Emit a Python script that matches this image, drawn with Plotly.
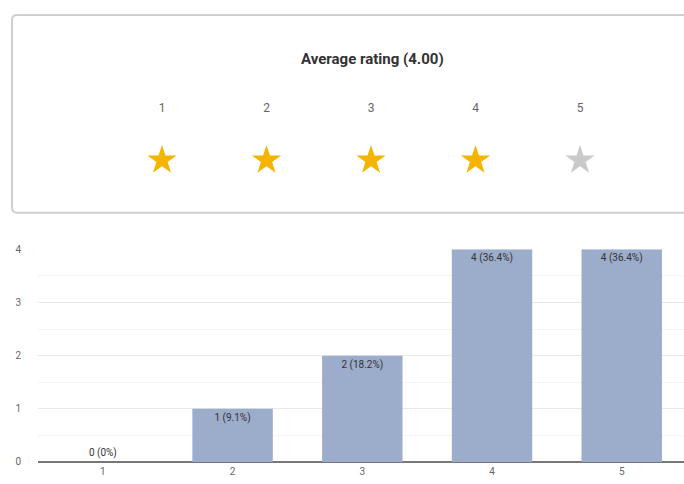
import plotly.graph_objects as go

ratings = [1, 2, 3, 4, 5]
counts = [0, 1, 2, 4, 4]
tick_labels = ["1", "2", "3", "4", "5"]
y_ticks = [0, 1, 2, 3, 4]

total = sum(counts)
avg = sum(r * c for r, c in zip(ratings, counts)) / total
labels = [f"{c} ({round(c / total * 100, 1):g}%)" for c in counts]
filled = round(avg)

W, H = 684, 484
ML, MB = 38, 22
PW, PH = W - ML, H - MB


def px(x):
    return (x - ML) / PW


def py(y):
    return (PH - y) / PH


fig = go.Figure()

fig.add_trace(go.Bar(
    x=ratings, y=counts, text=labels,
    textposition=["outside" if c == 0 else "inside" for c in counts],
    insidetextanchor="end",
    textfont=dict(size=10, color="#333333"),
    outsidetextfont=dict(size=10, color="#333333"),
    textangle=0,
    marker=dict(color="#9caccb", line=dict(width=0)),
    width=0.62, cliponaxis=False, hoverinfo="skip",
))

star_colors = ["#f4b400" if r <= filled else "#c9c9c9" for r in ratings]
fig.add_trace(go.Scatter(
    x=ratings, y=[0] * 5, mode="markers",
    marker=dict(symbol="star", size=22, color=star_colors, line=dict(width=0)),
    xaxis="x2", yaxis="y2", hoverinfo="skip",
))
fig.add_trace(go.Scatter(
    x=ratings, y=[1] * 5, mode="text", text=[str(r) for r in ratings],
    textfont=dict(size=12, color="#666666"),
    xaxis="x2", yaxis="y2", hoverinfo="skip",
))

r = 5
x0, x1, y0, y1 = px(12), px(740), py(210), py(10)
dx, dy = r / PW, r / PH
path = (f"M {x0+dx},{y1} L {x1-dx},{y1} Q {x1},{y1} {x1},{y1-dy} "
        f"L {x1},{y0+dy} Q {x1},{y0} {x1-dx},{y0} L {x0+dx},{y0} "
        f"Q {x0},{y0} {x0},{y0+dy} L {x0},{y1-dy} Q {x0},{y1} {x0+dx},{y1} Z")
fig.add_shape(type="path", path=path, xref="paper", yref="paper",
              line=dict(color="#cfcfcf", width=2), fillcolor="rgba(0,0,0,0)")

fig.add_annotation(text=f"<b>Average rating ({avg:.2f})</b>", xref="paper", yref="paper",
                   x=px(372), y=py(55), showarrow=False,
                   font=dict(size=15, color="#333333", family="Roboto"),
                   xanchor="center", yanchor="middle")

bar_top = 247
fig.update_layout(
    width=W, height=H,
    margin=dict(l=ML, r=0, t=0, b=MB),
    paper_bgcolor="white", plot_bgcolor="white",
    showlegend=False,
    font=dict(family="Roboto", size=10, color="#666666"),
    bargap=0.38,
    xaxis=dict(range=[0.5, 5.48], tickvals=ratings, ticktext=tick_labels,
               showgrid=False, zeroline=False, showline=False, ticks="",
               tickfont=dict(size=10, color="#666666"), ticklabelstandoff=2),
    yaxis=dict(domain=[0, (PH - bar_top) / PH], range=[0, 4], tickvals=y_ticks,
               showgrid=True, gridcolor="#e8e8e8", gridwidth=1,
               minor=dict(dtick=0.5, showgrid=True, gridcolor="#f4f4f4"),
               zeroline=True, zerolinecolor="#777777", zerolinewidth=1.5,
               showline=False, ticks="", ticklabelstandoff=16,
               tickfont=dict(size=10, color="#666666")),
    xaxis2=dict(domain=[0, 1], anchor="y2", range=[-0.1866, 5.995], visible=False),
    yaxis2=dict(domain=[0.5, 1], anchor="x2", range=[-1.423, 3.019], visible=False),
)

fig.write_html("out.html", config={"displayModeBar": False},
               post_script="document.body.style.margin='0';document.body.style.overflow='hidden';")
